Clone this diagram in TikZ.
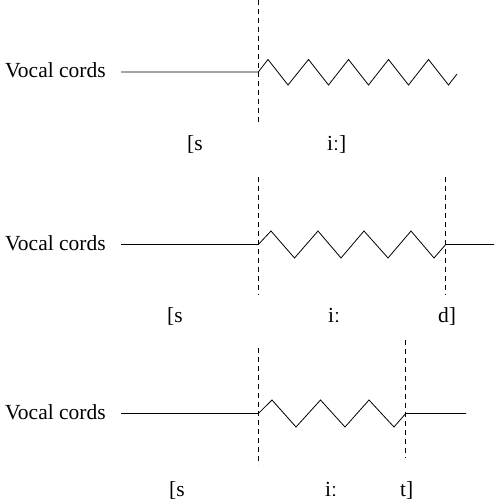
\documentclass[tikz,border=0pt]{standalone}
\usepackage{fontspec}
\setmainfont{Liberation Serif}
\begin{document}
\begin{tikzpicture}[x=1pt,y=-1pt,
  lbl/.style={inner sep=0pt,anchor=base west,font=\fontsize{21.5}{25}\selectfont},
  wire/.style={line width=0.8pt,line join=miter},
  divider/.style={line width=0.8pt,dash pattern=on 5pt off 4pt}]
\useasboundingbox (0,0) rectangle (494,502);
% ---- panel 1
\node[lbl] (vc1) at (5,77.5) {Vocal cords};
\coordinate (a1) at (121,72);
\coordinate (b1) at (258.3,72);
\coordinate (e1) at (457,74);
\coordinate (d1t) at (258.3,0);
\coordinate (d1b) at (258.3,125);
\draw[divider] (d1t) -- (d1b);
\draw[wire] (a1) -- (b1) -- (268,59.5) -- (288,85) -- (308.5,59.5) -- (328.5,85)
  -- (348.5,59.5) -- (368.5,85) -- (388.5,59.5) -- (408.5,85) -- (428.5,59.5)
  -- (448.5,85) -- (e1);
\node[lbl] (s1) at (187,151) {[s};
\node[lbl] (i1) at (327,151) {iː]};
% ---- panel 2
\node[lbl] (vc2) at (5,250) {Vocal cords};
\coordinate (a2) at (121,244.5);
\coordinate (b2) at (258.3,244.5);
\coordinate (c2) at (445.7,244.5);
\coordinate (e2) at (494,244.5);
\coordinate (d2t) at (258.3,177);
\coordinate (d2b) at (258.3,295);
\coordinate (f2t) at (445.7,177);
\coordinate (f2b) at (445.7,295);
\draw[divider] (d2t) -- (d2b);
\draw[divider] (f2t) -- (f2b);
\draw[wire] (a2) -- (b2) -- (271,231) -- (294.5,258) -- (318,231) -- (341,258)
  -- (364,231) -- (388,258) -- (411,231) -- (434,258) -- (c2) -- (e2);
\node[lbl] (s2) at (167,322) {[s};
\node[lbl] (i2) at (328,322) {iː};
\node[lbl] (t2) at (438,322) {d]};
% ---- panel 3
\node[lbl] (vc3) at (5,419.5) {Vocal cords};
\coordinate (a3) at (121,413.5);
\coordinate (b3) at (258.3,413.5);
\coordinate (c3) at (405.7,413.5);
\coordinate (e3) at (466,413.5);
\coordinate (d3t) at (258.3,348);
\coordinate (d3b) at (258.3,465);
\coordinate (f3t) at (405.7,340);
\coordinate (f3b) at (405.7,458);
\draw[divider] (d3t) -- (d3b);
\draw[divider] (f3t) -- (f3b);
\draw[wire] (a3) -- (b3) -- (272,400) -- (296,427) -- (320.5,400) -- (345,427)
  -- (369,400) -- (394,427) -- (c3) -- (e3);
\node[lbl] (s3) at (169,496) {[s};
\node[lbl] (i3) at (325,496) {iː};
\node[lbl] (t3) at (400,496) {t]};
\end{tikzpicture}
\end{document}
